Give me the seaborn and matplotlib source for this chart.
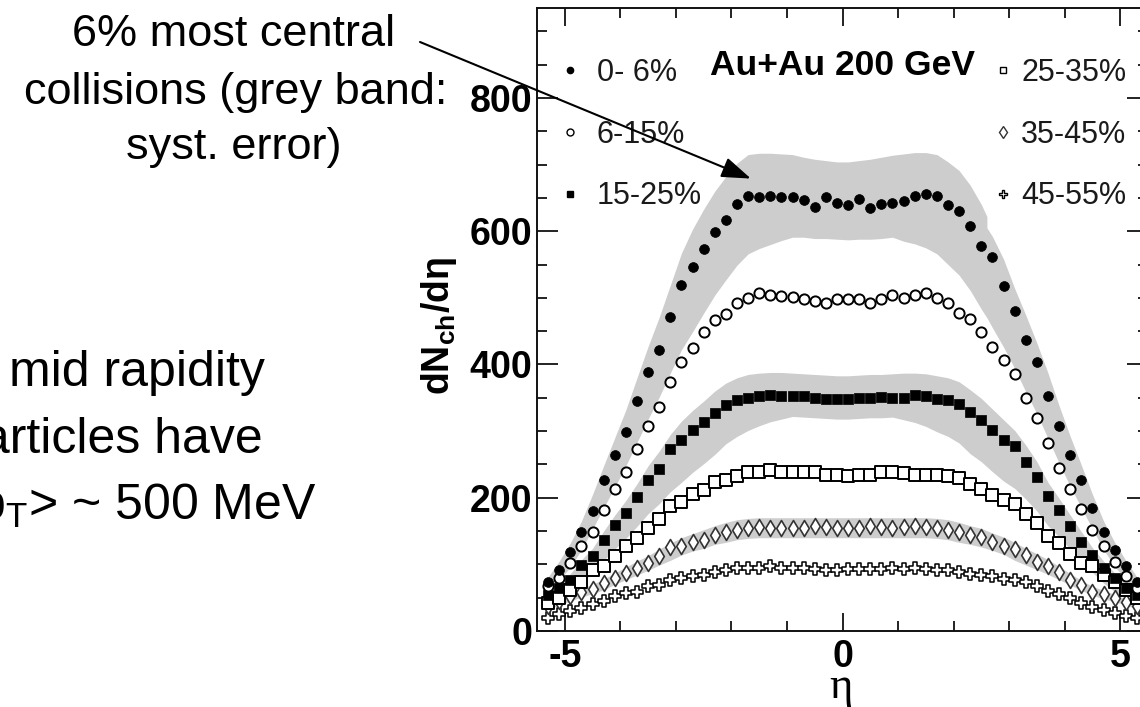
import matplotlib
matplotlib.use("Agg")
import matplotlib.pyplot as plt
import seaborn as sns
from matplotlib.lines import Line2D

# ---------------- data ----------------
eta = [-5.3, -5.1, -4.9, -4.7, -4.5, -4.3, -4.1, -3.9, -3.7, -3.5, -3.3, -3.1, -2.9, -2.7,
       -2.5, -2.3, -2.1, -1.9, -1.7, -1.5, -1.3, -1.1, -0.9, -0.7, -0.5, -0.3, -0.1,
       0.1, 0.3, 0.5, 0.7, 0.9, 1.1, 1.3, 1.5, 1.7, 1.9, 2.1, 2.3, 2.5, 2.7,
       2.9, 3.1, 3.3, 3.5, 3.7, 3.9, 4.1, 4.3, 4.5, 4.7, 4.9, 5.1, 5.3]

c0_6 = [74, 92, 118, 149, 180, 227, 264, 299, 345, 388, 421, 472, 520, 547, 573, 599, 617, 641,
        653, 651, 653, 651, 652, 647, 637, 651, 643,
        640, 648, 635, 641, 643, 645, 653, 656, 653, 640, 631, 608, 578, 562, 518, 481, 436,
        403, 352, 307, 264, 227, 184, 149, 121, 97, 74]
c6_15 = [67, 79, 102, 127, 148, 182, 213, 238, 273, 308, 336, 374, 403, 424, 448, 466, 476, 493,
         500, 507, 505, 503, 501, 498, 496, 492, 498,
         498, 498, 493, 498, 505, 500, 505, 507, 500, 492, 478, 468, 449, 426, 406, 386, 349,
         319, 282, 244, 213, 183, 151, 127, 103, 82, 65]
c15_25 = [54, 64, 77, 99, 112, 137, 159, 177, 201, 226, 243, 273, 286, 301, 313, 327, 339, 346,
          350, 353, 354, 353, 353, 352, 350, 348, 348,
          348, 350, 350, 351, 350, 350, 354, 352, 348, 346, 341, 329, 317, 302, 287, 278, 254,
          231, 202, 182, 158, 134, 114, 94, 79, 64, 54]
c25_35 = [42, 50, 62, 74, 92, 97, 112, 127, 139, 154, 168, 187, 194, 206, 212, 224, 227, 233,
          238, 238, 241, 238, 238, 238, 238, 234, 234,
          233, 234, 234, 239, 239, 237, 234, 234, 234, 233, 229, 221, 213, 204, 197, 191, 176,
          162, 142, 132, 116, 102, 97, 84, 73, 62, 50]
c35_45 = [38, 45, 52, 59, 63, 72, 79, 87, 94, 102, 112, 126, 127, 134, 137, 144, 148, 152,
          154, 156, 154, 154, 154, 154, 158, 156, 154,
          154, 154, 158, 156, 154, 156, 158, 156, 154, 152, 148, 144, 141, 133, 127, 123, 114,
          104, 98, 88, 77, 69, 59, 55, 50, 44, 38]
c45_55 = [20, 25, 30, 34, 40, 45, 52, 57, 59, 67, 69, 77, 79, 82, 84, 89, 92, 94,
          94, 94, 98, 94, 94, 94, 93, 92, 92,
          93, 93, 93, 93, 94, 93, 94, 93, 92, 92, 89, 86, 84, 82, 78, 76, 73,
          68, 60, 56, 50, 42, 36, 31, 27, 23, 20]

# systematic-error bands (lower / upper edges)
band06_eta = [-5.3, -5.1, -4.9, -4.7, -4.5, -4.3, -4.1, -3.9, -3.7, -3.5, -3.3, -3.1, -2.9, -2.7,
              -2.5, -2.3, -2.1, -1.9, -1.7, -1.5, -1.3, -1.1, -0.9, -0.7, -0.5, -0.3, -0.1,
              0.1, 0.3, 0.5, 0.7, 0.9, 1.1, 1.3, 1.5, 1.7, 1.9, 2.1, 2.3, 2.5, 2.6, 2.6, 2.7,
              2.9, 3.1, 3.3, 3.5, 3.7, 3.9, 4.1, 4.3, 4.5, 4.7, 4.9, 5.1, 5.3]
band06_hi = [81, 105, 132, 165, 205, 248, 290, 332, 380, 427, 471, 519, 567, 603, 633, 660, 682,
             702, 715, 717, 717, 716, 715, 711, 708, 706, 704,
             704, 706, 708, 711, 714, 716, 718, 718, 715, 704, 691, 669, 640, 622, 605, 592,
             558, 514, 474, 432, 387, 338, 292, 249, 205, 165, 133, 106, 81]
band06_lo = [59, 76, 96, 122, 153, 185, 216, 248, 283, 318, 351, 387, 422, 449, 477, 504, 527,
             549, 566, 574, 580, 586, 591, 591, 589, 589, 588,
             587, 588, 588, 589, 591, 585, 581, 575, 566, 550, 534, 511, 483, 470, 470, 455,
             426, 394, 359, 326, 289, 252, 217, 185, 153, 122, 97, 77, 59]
band15_hi = [59, 70, 86, 107, 124, 150, 174, 196, 221, 248, 270, 295, 315, 331, 345, 360, 372,
             380, 385, 387, 388, 388, 387, 386, 385, 384, 383,
             383, 384, 385, 385, 386, 387, 387, 386, 383, 380, 374, 362, 349, 333, 317, 301,
             279, 254, 223, 199, 174, 149, 125, 105, 87, 72, 59]
band15_lo = [41, 48, 59, 74, 87, 106, 123, 139, 157, 176, 191, 209, 223, 238, 251, 265, 281,
             292, 301, 308, 314, 318, 322, 321, 320, 319, 318,
             318, 319, 320, 320, 321, 317, 313, 307, 299, 292, 282, 266, 254, 239, 225, 214,
             198, 180, 158, 141, 123, 105, 88, 72, 59, 49, 41]
band35_hi = [42, 48, 56, 64, 70, 78, 87, 96, 105, 113, 123, 132, 140, 146, 152, 158, 163,
             167, 169, 170, 170, 170, 170, 170, 170, 170, 170,
             170, 170, 170, 170, 170, 170, 170, 170, 169, 167, 163, 158, 154, 147, 141, 133,
             124, 116, 107, 97, 86, 76, 67, 61, 55, 48, 42]
band35_lo = [33, 39, 45, 51, 56, 62, 70, 77, 84, 91, 99, 106, 114, 120, 124, 130, 133,
             137, 139, 140, 140, 140, 140, 140, 140, 140, 140,
             140, 140, 140, 140, 140, 140, 140, 140, 139, 137, 133, 130, 126, 121, 115, 106,
             99, 92, 85, 77, 69, 61, 54, 48, 44, 39, 33]

labels_left = ["0- 6%", "6-15%", "15-25%"]
labels_right = ["25-35%", "35-45%", "45-55%"]
x_ticks = [-5, 0, 5]
y_ticks = [0, 200, 400, 600, 800]

# ---------------- style ----------------
sns.set_style("ticks")
plt.rcParams["font.family"] = ["Liberation Sans", "DejaVu Sans"]
plt.rcParams["axes.unicode_minus"] = False
plt.rcParams["mathtext.fontset"] = "custom"
plt.rcParams["mathtext.rm"] = "Liberation Sans"
plt.rcParams["mathtext.it"] = "Liberation Sans:italic"
plt.rcParams["mathtext.bf"] = "Liberation Sans:bold"
for k in ["text.color", "axes.labelcolor", "xtick.color", "ytick.color", "axes.edgecolor"]:
    plt.rcParams[k] = "black"

W, H = 1140, 707
fig = plt.figure(figsize=(W / 100, H / 100), dpi=100)
ax = fig.add_axes([537 / W, 76 / H, 611 / W, 623 / H])

band_col = "#cdcdcd"
ax.fill_between(band06_eta, band06_lo, band06_hi, color=band_col, lw=0, zorder=1)
ax.fill_between(eta, band15_lo, band15_hi, color=band_col, lw=0, zorder=1)
ax.fill_between(eta, band35_lo, band35_hi, color=band_col, lw=0, zorder=1)

series = [
    (c45_55, dict(marker="P", s=70, color="white", edgecolor="black", linewidth=1.1)),
    (c35_45, dict(marker="d", s=66, color="white", edgecolor="#333333", linewidth=1.2)),
    (c25_35, dict(marker="s", s=64, color="white", edgecolor="black", linewidth=1.4)),
    (c15_25, dict(marker="s", s=50, color="black", edgecolor="black", linewidth=0.5)),
    (c6_15, dict(marker="o", s=54, color="white", edgecolor="black", linewidth=1.4)),
    (c0_6, dict(marker="o", s=50, color="black", edgecolor="black", linewidth=0.5)),
]
for i, (vals, kw) in enumerate(series):
    sns.scatterplot(x=eta, y=vals, ax=ax, legend=False, zorder=3 + i, clip_on=True, **kw)

ax.set_xlim(-5.5, 5.5)
ax.set_ylim(0, 935)
ax.set_xticks(x_ticks)
ax.set_xticklabels([str(v) for v in x_ticks], fontsize=27, fontweight="bold")
ax.set_xticks([-4, -3, -2, -1, 1, 2, 3, 4], minor=True)
ax.set_yticks(y_ticks)
ax.set_yticklabels([str(v) for v in y_ticks], fontsize=27, fontweight="bold")
ax.set_yticks([50, 100, 150, 250, 300, 350, 450, 500, 550, 650, 700, 750, 850, 900], minor=True)
ax.tick_params(which="both", direction="in", top=True, right=True, width=1.3, color="#111111",
               labelcolor="black")
ax.tick_params(axis="x", which="major", length=13, pad=6)
ax.tick_params(axis="y", which="major", length=15, pad=3.5)
ax.tick_params(which="minor", length=7.5)
for sp in ax.spines.values():
    sp.set_linewidth(1.4)
    sp.set_color("#111111")

ax.set_ylabel("dN$_{\\mathregular{ch}}$/dη", fontsize=27, fontweight="bold")
ax.yaxis.set_label_coords(-0.128, 0.49)
ax.set_xlabel("η", fontsize=32, fontfamily="Liberation Serif")
ax.xaxis.set_label_coords(0.4967, -0.058)

# legends
h_left = [Line2D([], [], ls="none", marker="o", ms=4.5, mfc="black", mec="black"),
          Line2D([], [], ls="none", marker="o", ms=5, mfc="white", mec="black", mew=1),
          Line2D([], [], ls="none", marker="s", ms=4.5, mfc="black", mec="black")]
h_right = [Line2D([], [], ls="none", marker="s", ms=5, mfc="white", mec="black", mew=1),
           Line2D([], [], ls="none", marker="d", ms=6, mfc="white", mec="#333333", mew=1),
           Line2D([], [], ls="none", marker="P", ms=6, mfc="white", mec="black", mew=1)]
common = dict(loc="upper left", frameon=False, fontsize=22, labelspacing=1.04,
              handlelength=0.6, borderpad=0, borderaxespad=0, labelcolor="#1a1a1a")
leg1 = ax.legend(h_left, labels_left, bbox_to_anchor=(0.039, 0.920), handletextpad=0.58, **common)
ax.add_artist(leg1)
ax.legend(h_right, labels_right, bbox_to_anchor=(0.748, 0.920), handletextpad=0.29, **common)

ax.text(0.5008, 0.8925, "Au+Au 200 GeV", transform=ax.transAxes, ha="center", va="baseline",
        fontsize=25.5, fontweight="bold", color="black")

# slide annotations
fig.text(234 / W, 1 - 46 / H, "6% most central", ha="center", va="baseline", fontsize=32.5)
fig.text(236 / W, 1 - 104 / H, "collisions (grey band:", ha="center", va="baseline", fontsize=32.5)
fig.text(234 / W, 1 - 159 / H, "syst. error)", ha="center", va="baseline", fontsize=32.5)

fig.text(265 / W, 1 - 386 / H, "mid rapidity", ha="right", va="baseline", fontsize=36)
fig.text(263 / W, 1 - 453 / H, "particles have", ha="right", va="baseline", fontsize=36)
fig.text(316 / W, 1 - 519 / H, "<p$_{\\mathregular{T}}$> ~ 500 MeV", ha="right", va="baseline",
         fontsize=36)

ax.annotate("", xy=(-1.65, 679), xycoords="data", xytext=(420, H - 42),
            textcoords="figure pixels", annotation_clip=False,
            arrowprops=dict(arrowstyle="-|>,head_length=1.0,head_width=0.35", mutation_scale=18,
                            lw=1.5, color="black", shrinkA=0, shrinkB=0), zorder=10)

fig.savefig("out.png", dpi=100)
